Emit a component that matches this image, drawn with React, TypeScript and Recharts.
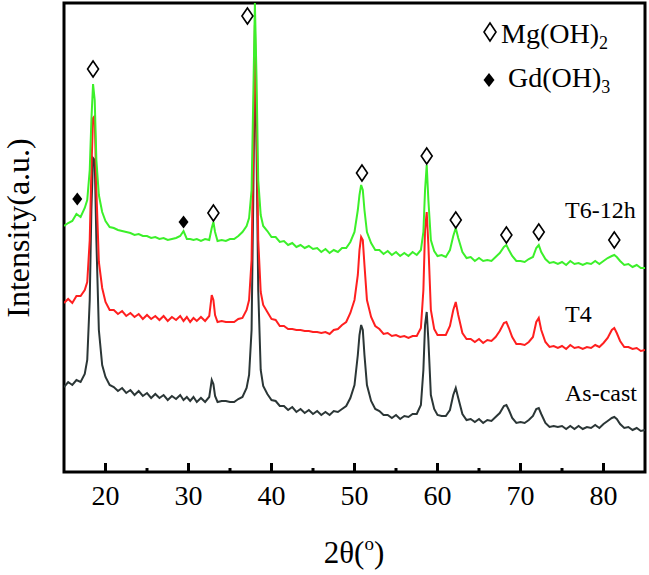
import React from 'react';
import { ComposedChart, Line, Scatter, XAxis, YAxis, ReferenceArea } from 'recharts';

// 2θ positions (deg)
const twoTheta = [
  15, 15.5, 16, 16.5, 17, 17.5, 17.8, 18.1, 18.3, 18.5,
  18.7, 18.9, 19.2, 19.6, 20, 20.5, 21, 21.5, 22, 22.5,
  23, 23.5, 24, 24.5, 25, 25.5, 26, 26.5, 27, 27.5,
  28, 28.5, 29, 29.4, 29.8, 30.2, 30.6, 31, 31.5, 32,
  32.5, 32.8, 33, 33.2, 33.5, 34, 34.5, 35, 35.5, 36,
  36.5, 37, 37.3, 37.6, 37.8, 38, 38.2, 38.4, 38.7, 39,
  39.5, 40, 40.5, 41, 41.5, 42, 42.5, 43, 43.5, 44,
  44.5, 45, 45.5, 46, 46.5, 47, 47.5, 48, 48.5, 49,
  49.5, 50, 50.4, 50.6, 50.8, 51, 51.2, 51.5, 52, 52.5,
  53, 53.5, 54, 54.5, 55, 55.5, 56, 56.5, 57, 57.5,
  58, 58.3, 58.5, 58.7, 58.9, 59.2, 59.6, 60, 60.5, 61,
  61.5, 61.9, 62.2, 62.5, 63, 63.5, 64, 64.5, 65, 65.5,
  66, 66.5, 67, 67.5, 68, 68.3, 68.6, 69, 69.5, 70,
  70.5, 71, 71.5, 71.9, 72.2, 72.5, 73, 73.5, 74, 74.5,
  75, 75.5, 76, 76.5, 77, 77.5, 78, 78.5, 79, 79.5,
  80, 80.5, 81, 81.3, 81.6, 82, 82.5, 83, 83.5, 84,
  84.5, 85,
];

// T6-12h
const t6 = [
  246, 249, 251, 258, 255, 264, 272, 302, 352, 388,
  372, 312, 277, 260, 251, 245, 244, 242, 241, 240,
  239, 237, 238, 236, 236, 234, 235, 233, 234, 232,
  233, 234, 236, 241, 233, 233, 232, 233, 231, 233,
  232, 244, 250, 240, 231, 232, 231, 233, 233, 236,
  240, 246, 254, 282, 372, 469, 392, 292, 257, 246,
  241, 235, 235, 230, 231, 227, 229, 225, 227, 224,
  226, 223, 224, 220, 223, 219, 222, 220, 224, 224,
  230, 240, 262, 277, 287, 282, 262, 240, 229, 222,
  222, 218, 221, 217, 220, 216, 219, 216, 220, 217,
  222, 240, 282, 307, 272, 232, 221, 216, 217, 215,
  222, 236, 244, 234, 220, 214, 215, 211, 214, 211,
  212, 211, 215, 219, 225, 227, 222, 216, 211, 211,
  210, 213, 215, 224, 227, 220, 213, 209, 210, 208,
  210, 207, 211, 208, 209, 207, 209, 208, 211, 208,
  211, 214, 216, 217, 215, 211, 207, 208, 205, 207,
  204, 204,
];

// T4
const t4 = [
  169, 173, 169, 176, 176, 182, 190, 232, 302, 354,
  356, 282, 210, 184, 170, 162, 162, 158, 161, 156,
  159, 155, 158, 153, 157, 153, 156, 152, 156, 151,
  155, 152, 156, 151, 155, 150, 154, 151, 155, 151,
  156, 177, 172, 157, 150, 151, 150, 150, 150, 153,
  154, 162, 172, 212, 322, 447, 352, 232, 180, 167,
  160, 153, 152, 146, 146, 143, 143, 142, 142, 141,
  141, 140, 140, 139, 140, 138, 142, 143, 147, 150,
  159, 172, 197, 222, 235, 232, 207, 172, 155, 146,
  143, 138, 139, 136, 137, 135, 136, 134, 136, 136,
  144, 182, 242, 260, 227, 162, 143, 137, 137, 137,
  146, 162, 170, 157, 139, 133, 133, 130, 133, 129,
  132, 131, 135, 141, 149, 150, 144, 135, 128, 128,
  127, 130, 135, 150, 154, 142, 130, 125, 126, 124,
  126, 123, 127, 124, 125, 123, 125, 124, 127, 125,
  129, 134, 142, 144, 139, 131, 125, 125, 123, 124,
  121, 122,
];

// As-cast
const asCast = [
  85, 90, 87, 92, 90, 98, 112, 172, 262, 314,
  312, 232, 142, 107, 95, 87, 85, 81, 84, 79,
  82, 77, 81, 76, 79, 74, 78, 74, 77, 72,
  76, 73, 77, 72, 75, 71, 75, 70, 74, 70,
  75, 92, 88, 76, 70, 71, 71, 70, 70, 73,
  75, 84, 97, 142, 272, 414, 322, 182, 102, 86,
  78, 72, 71, 66, 66, 62, 65, 60, 63, 59,
  62, 58, 61, 57, 60, 57, 61, 60, 63, 66,
  74, 87, 117, 137, 147, 142, 117, 87, 71, 63,
  61, 57, 57, 54, 57, 53, 56, 55, 58, 58,
  67, 102, 147, 160, 132, 77, 63, 57, 56, 56,
  62, 77, 84, 74, 58, 52, 53, 50, 53, 49,
  52, 51, 55, 59, 66, 67, 62, 54, 49, 50,
  49, 52, 56, 63, 64, 58, 49, 45, 46, 45,
  46, 43, 46, 43, 46, 43, 45, 44, 47, 44,
  48, 51, 54, 55, 53, 48, 44, 45, 42, 44,
  41, 42,
];

const xTicks = [20, 25, 30, 35, 40, 45, 50, 55, 60, 65, 70, 75, 80];

// phase markers
const mgPeakX = [18.5, 33.0, 37.1, 50.9, 58.7, 62.2, 68.3, 72.2, 81.3];
const mgPeakY = [403, 259, 456, 299, 316, 252, 237, 240, 232];
const gdPeakX = [16.6, 29.4];
const gdPeakY = [273, 250];

const rows = twoTheta.map((x, i) => ({ x, asCast: asCast[i], t4: t4[i], t6: t6[i] }));
const mgRows = mgPeakX.map((x, i) => ({ x, y: mgPeakY[i] }));
const gdRows = gdPeakX.map((x, i) => ({ x, y: gdPeakY[i] }));

const SERIF = "'Times New Roman', 'Liberation Serif', 'DejaVu Serif', serif";

const XTick = (props: any) => {
  const { x, y, payload } = props;
  const major = payload.value % 10 === 0;
  return (
    <g>
      <line x1={x} x2={x} y1={y} y2={y - (major ? 9 : 4)} stroke="#000" strokeWidth={3} />
      {major && (
        <text x={x} y={y + 33} textAnchor="middle" fontSize={28} style={{ fontFamily: SERIF }} fill="#000">
          {payload.value}
        </text>
      )}
    </g>
  );
};

const OpenDiamond = (props: any) => {
  const { cx, cy } = props;
  return (
    <polygon
      points={`${cx},${cy - 8} ${cx + 5.5},${cy} ${cx},${cy + 8} ${cx - 5.5},${cy}`}
      fill="#fff"
      stroke="#000"
      strokeWidth={1.6}
    />
  );
};

const FilledDiamond = (props: any) => {
  const { cx, cy } = props;
  return (
    <polygon points={`${cx},${cy - 6.5} ${cx + 5},${cy} ${cx},${cy + 6.5} ${cx - 5},${cy}`} fill="#000" />
  );
};

export default function App() {
  return (
    <div style={{ position: 'absolute', left: 0, top: 0, width: 649, height: 575, background: '#fff' }}>
      <ComposedChart width={649} height={575} data={rows} margin={{ top: 3, right: 4, bottom: 0, left: 64 }}>
        <XAxis
          dataKey="x"
          type="number"
          domain={[15, 85]}
          ticks={xTicks}
          interval={0}
          allowDataOverflow
          axisLine={false}
          tickLine={false}
          tickSize={0}
          tickMargin={0}
          height={103}
          tick={<XTick />}
        />
        <YAxis hide width={0} type="number" domain={[0, 469]} allowDataOverflow />
        <Line dataKey="asCast" stroke="#2b3636" strokeWidth={2} dot={false} isAnimationActive={false} />
        <Line dataKey="t4" stroke="#ff1f1f" strokeWidth={2} dot={false} isAnimationActive={false} />
        <Line dataKey="t6" stroke="#3cf02a" strokeWidth={2} dot={false} isAnimationActive={false} />
        <Scatter data={mgRows} dataKey="y" shape={<OpenDiamond />} isAnimationActive={false} />
        <Scatter data={gdRows} dataKey="y" shape={<FilledDiamond />} isAnimationActive={false} />
        <ReferenceArea x1={15} x2={85} y1={0} y2={469} fill="none" stroke="#000" strokeWidth={3} ifOverflow="visible" />
      </ComposedChart>

      <svg width={649} height={575} style={{ position: 'absolute', left: 0, top: 0, pointerEvents: 'none', fontFamily: SERIF }}>
        <g fill="#000">
          <text transform="translate(29,228) rotate(-90)" textAnchor="middle" fontSize={32}>
            Intensity(a.u.)
          </text>
          <text x={354} y={563} textAnchor="middle" fontSize={31}>
            2θ(<tspan fontSize={19} dy={-13}>o</tspan>
            <tspan dy={13}>)</tspan>
          </text>

          <polygon points="490,23 496,32 490,41 484,32" fill="#fff" stroke="#000" strokeWidth={1.6} />
          <text x={501} y={43} fontSize={28}>
            Mg(OH)<tspan fontSize={18} dy={6}>2</tspan>
          </text>
          <polygon points="489,73 494.5,80 489,87 483.5,80" fill="#000" />
          <text x={508} y={87} fontSize={28}>
            Gd(OH)<tspan fontSize={18} dy={6}>3</tspan>
          </text>

          <text x={565} y={218} fontSize={24}>T6-12h</text>
          <text x={565} y={322} fontSize={24}>T4</text>
          <text x={565} y={401} fontSize={24}>As-cast</text>
        </g>
      </svg>
    </div>
  );
}
